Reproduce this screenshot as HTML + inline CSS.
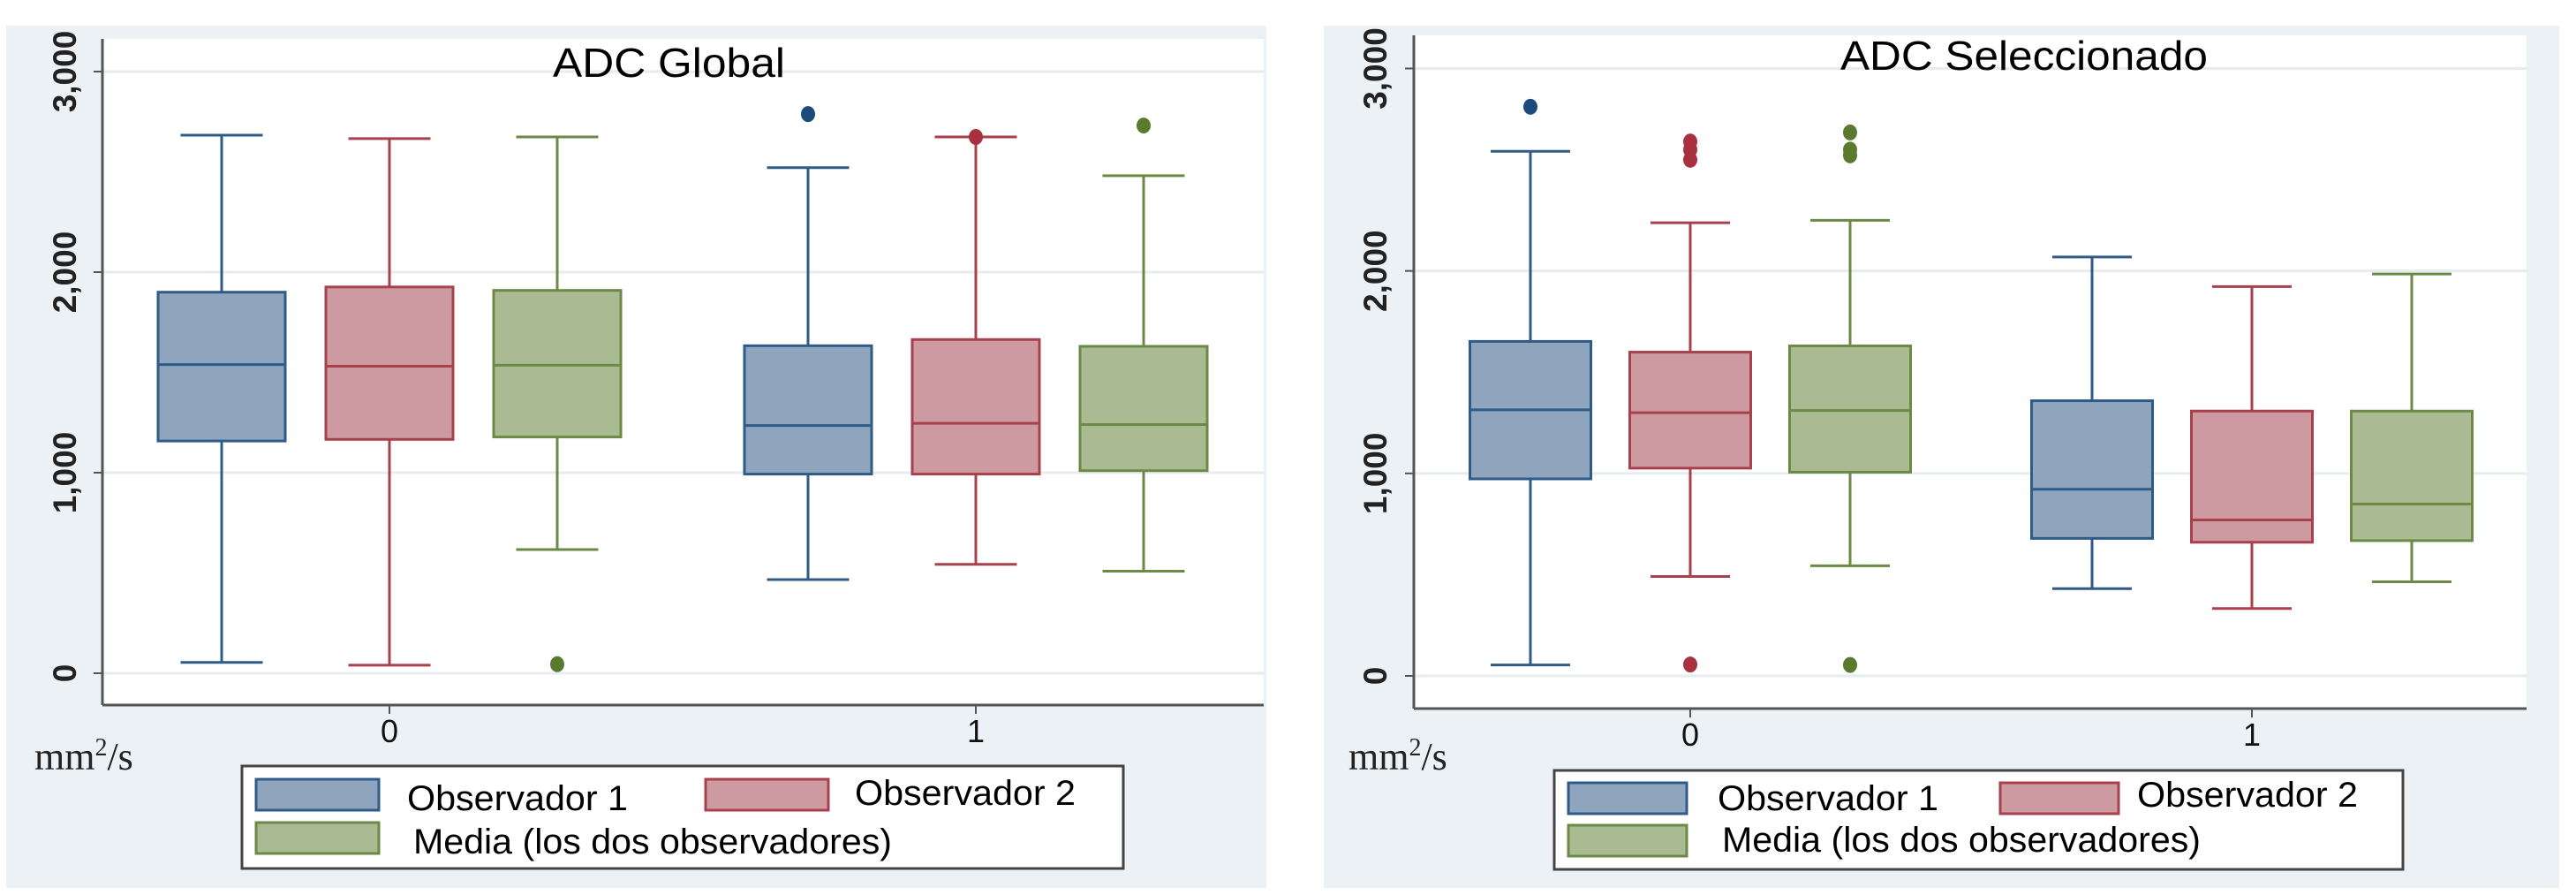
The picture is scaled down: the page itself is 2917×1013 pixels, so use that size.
<!DOCTYPE html>
<html><head><meta charset="utf-8"><style>
html,body{margin:0;padding:0;background:#fff;}
svg{display:block;}
text{font-family:"Liberation Sans",sans-serif;}
</style></head><body>
<svg id="chart" width="2917" height="1013" viewBox="0 0 2917 1013" xmlns="http://www.w3.org/2000/svg"></svg>
<script>
// ---- data ----
const categories = ["0", "1"];
const seriesNames = ["Observador 1", "Observador 2", "Media (los dos observadores)"];
const yTicks = [0, 1000, 2000, 3000];
const yTickLabels = ["0", "1,000", "2,000", "3,000"];
// Panel A: ADC Global  [lo, q1, med, q3, hi] per series per category
const globalObs1 = [[54,1158,1539,1900,2683],[467,993,1235,1633,2521]];
const globalObs2 = [[40,1166,1531,1926,2666],[543,993,1246,1664,2674]];
const globalMean = [[617,1178,1536,1909,2674],[509,1010,1240,1630,2481]];
const globalOutObs1 = [[],[2788]];
const globalOutObs2 = [[],[2674]];
const globalOutMean = [[45],[2731]];
// Panel B: ADC Seleccionado
const selObs1 = [[54,973,1314,1652,2591],[431,679,922,1359,2069]];
const selObs2 = [[491,1026,1300,1599,2238],[333,660,770,1308,1923]];
const selMean = [[544,1006,1311,1630,2250],[465,668,849,1308,1985]];
const selOutObs1 = [[2811],[]];
const selOutObs2 = [[2639,2599,2549,56],[]];
const selOutMean = [[2684,2599,2571,54],[]];

const NS = "http://www.w3.org/2000/svg";
const svg = document.getElementById("chart");
const fills = ["#8fa5bd","#cc9aa0","#aabb93"];
const strokes = ["#2f5b88","#a9414c","#6b8a45"];
const dots = ["#1c4a7a","#a8303f","#5a7a2e"];

function mk(tag, attrs, parent){
  const e = document.createElementNS(NS, tag);
  for (const k in attrs) e.setAttribute(k, attrs[k]);
  (parent||svg).appendChild(e);
  return e;
}

function panel(cfg){
  const g = mk("g", {});
  
  
  const bg = mk("rect", {x:cfg.px0, y:29, width:cfg.px1-cfg.px0, height:976, fill:"#ebf1f4"}, g);
  
  
  const pa = mk("rect", {x:cfg.x0, y:cfg.yTop, width:cfg.x1-cfg.x0, height:cfg.yAxis-cfg.yTop, fill:"#fff"}, g);
  
  
  const y = v => cfg.y0 - (cfg.y0 - cfg.y3000) * v / 3000;
  const xs = (ci, si) => cfg.cat[ci] + (si - 1) * cfg.step;
  yTicks.forEach((t, i) => {
    const gl = mk("line", {x1:cfg.x0, x2:cfg.x1, y1:y(t), y2:y(t), stroke:"#e6ecef", "stroke-width":3}, g);
    
    
    mk("line", {x1:cfg.x0-10, x2:cfg.x0, y1:y(t), y2:y(t), stroke:"#555", "stroke-width":2}, g);
    const tl = mk("text", {x:0, y:0, "font-size":37, "font-weight":"bold", "text-anchor":"middle", fill:"#222",
      transform:`translate(${cfg.labX},${y(t)}) rotate(-90)`}, g);
    tl.textContent = yTickLabels[i];
    
    
  });
  mk("line", {x1:cfg.x0, x2:cfg.x0, y1:cfg.yTop, y2:cfg.yAxis, stroke:"#555", "stroke-width":3}, g);
  mk("line", {x1:cfg.x0, x2:cfg.x1, y1:cfg.yAxis, y2:cfg.yAxis, stroke:"#555", "stroke-width":3}, g);
  categories.forEach((c, ci) => {
    mk("line", {x1:cfg.cat[ci], x2:cfg.cat[ci], y1:cfg.yAxis, y2:cfg.yAxis+10, stroke:"#555", "stroke-width":2}, g);
    const cl = mk("text", {x:cfg.cat[ci], y:cfg.yAxis+42, "font-size":36, "text-anchor":"middle", fill:"#111"}, g);
    cl.textContent = c;
    
    
  });
  cfg.series.forEach((ser, si) => {
    ser.forEach((b, ci) => {
      const cx = xs(ci, si), hw = cfg.boxW/2, cw = cfg.capW/2;
      const bx = mk("g", {}, g);
      
      
      const st = {stroke:strokes[si], "stroke-width":3, fill:"none"};
      mk("line", Object.assign({x1:cx, x2:cx, y1:y(b[4]), y2:y(b[3])}, st), bx);
      mk("line", Object.assign({x1:cx, x2:cx, y1:y(b[1]), y2:y(b[0])}, st), bx);
      mk("line", Object.assign({x1:cx-cw, x2:cx+cw, y1:y(b[4]), y2:y(b[4])}, st), bx);
      mk("line", Object.assign({x1:cx-cw, x2:cx+cw, y1:y(b[0]), y2:y(b[0])}, st), bx);
      mk("rect", {x:cx-hw, y:y(b[3]), width:cfg.boxW, height:y(b[1])-y(b[3]), fill:fills[si], stroke:strokes[si], "stroke-width":3}, bx);
      mk("line", Object.assign({x1:cx-hw, x2:cx+hw, y1:y(b[2]), y2:y(b[2])}, st), bx);
      cfg.outliers[si][ci].forEach(o => {
        const d = mk("ellipse", {cx:cx, cy:y(o), rx:8, ry:9, fill:dots[si]}, bx);
        
        
      });
    });
  });
  const ti = mk("text", {x:cfg.titleX, y:cfg.titleY, "font-size":46, fill:"#000", textLength:cfg.titleW, lengthAdjust:"spacingAndGlyphs"}, g);
  ti.textContent = cfg.title;
  
  
  const un = mk("text", {x:cfg.unitX, y:871, "font-size":44, fill:"#222", style:"font-family:'Liberation Serif',serif"}, g);
  un.innerHTML = 'mm<tspan dy="-16" font-size="28">2</tspan><tspan dy="16">/s</tspan>';
  
  
  const L = cfg.leg;
  const lg = mk("g", {}, g);
  
  
  mk("rect", {x:L.x, y:L.y, width:L.w, height:L.h, fill:"#fff", stroke:"#444", "stroke-width":3}, lg);
  const items = [[L.s1x, L.r1y, L.t1x, L.t1y, 250],[L.s2x, L.r1y, L.t2x, L.t2y, 250],[L.s1x, L.r2y, L.t3x, L.t3y, 542]];
  items.forEach((it, si) => {
    const e = mk("g", {}, lg);
    
    
    mk("rect", {x:it[0], y:it[1], width:L.sw, height:35, fill:fills[si], stroke:strokes[si], "stroke-width":3}, e);
    const t = mk("text", {x:it[2], y:it[3], "font-size":40, fill:"#000", textLength:it[4], lengthAdjust:"spacingAndGlyphs"}, e);
    t.textContent = seriesNames[si];
  });
}

panel({name:"panel-adc-global", tag:"global", px0:7, px1:1434, x0:116, x1:1431, yTop:44, yAxis:798,
  y0:762, y3000:81, labX:86, cat:[441,1105], step:190, boxW:144, capW:93,
  series:[globalObs1, globalObs2, globalMean], outliers:[globalOutObs1, globalOutObs2, globalOutMean],
  title:"ADC Global", titleX:626, titleY:87, titleW:263, unitX:39,
  leg:{x:274, y:867, w:998, h:116, s1x:290, s2x:799, sw:139, r1y:882, r2y:931,
       t1x:461, t1y:917, t2x:968, t2y:911, t3x:468, t3y:966}});

panel({name:"panel-adc-seleccionado", tag:"sel", px0:1499, px1:2898, x0:1601, x1:2861, yTop:40, yAxis:802,
  y0:765, y3000:77.5, labX:1570, cat:[1914,2550], step:181, boxW:137, capW:90,
  series:[selObs1, selObs2, selMean], outliers:[selOutObs1, selOutObs2, selOutMean],
  title:"ADC Seleccionado", titleX:2084, titleY:79, titleW:416, unitX:1527,
  leg:{x:1760, y:872, w:961, h:112, s1x:1776, s2x:2265, sw:134, r1y:886, r2y:934,
       t1x:1945, t1y:917, t2x:2420, t2y:913, t3x:1950, t3y:964}});
</script>
</body></html>
